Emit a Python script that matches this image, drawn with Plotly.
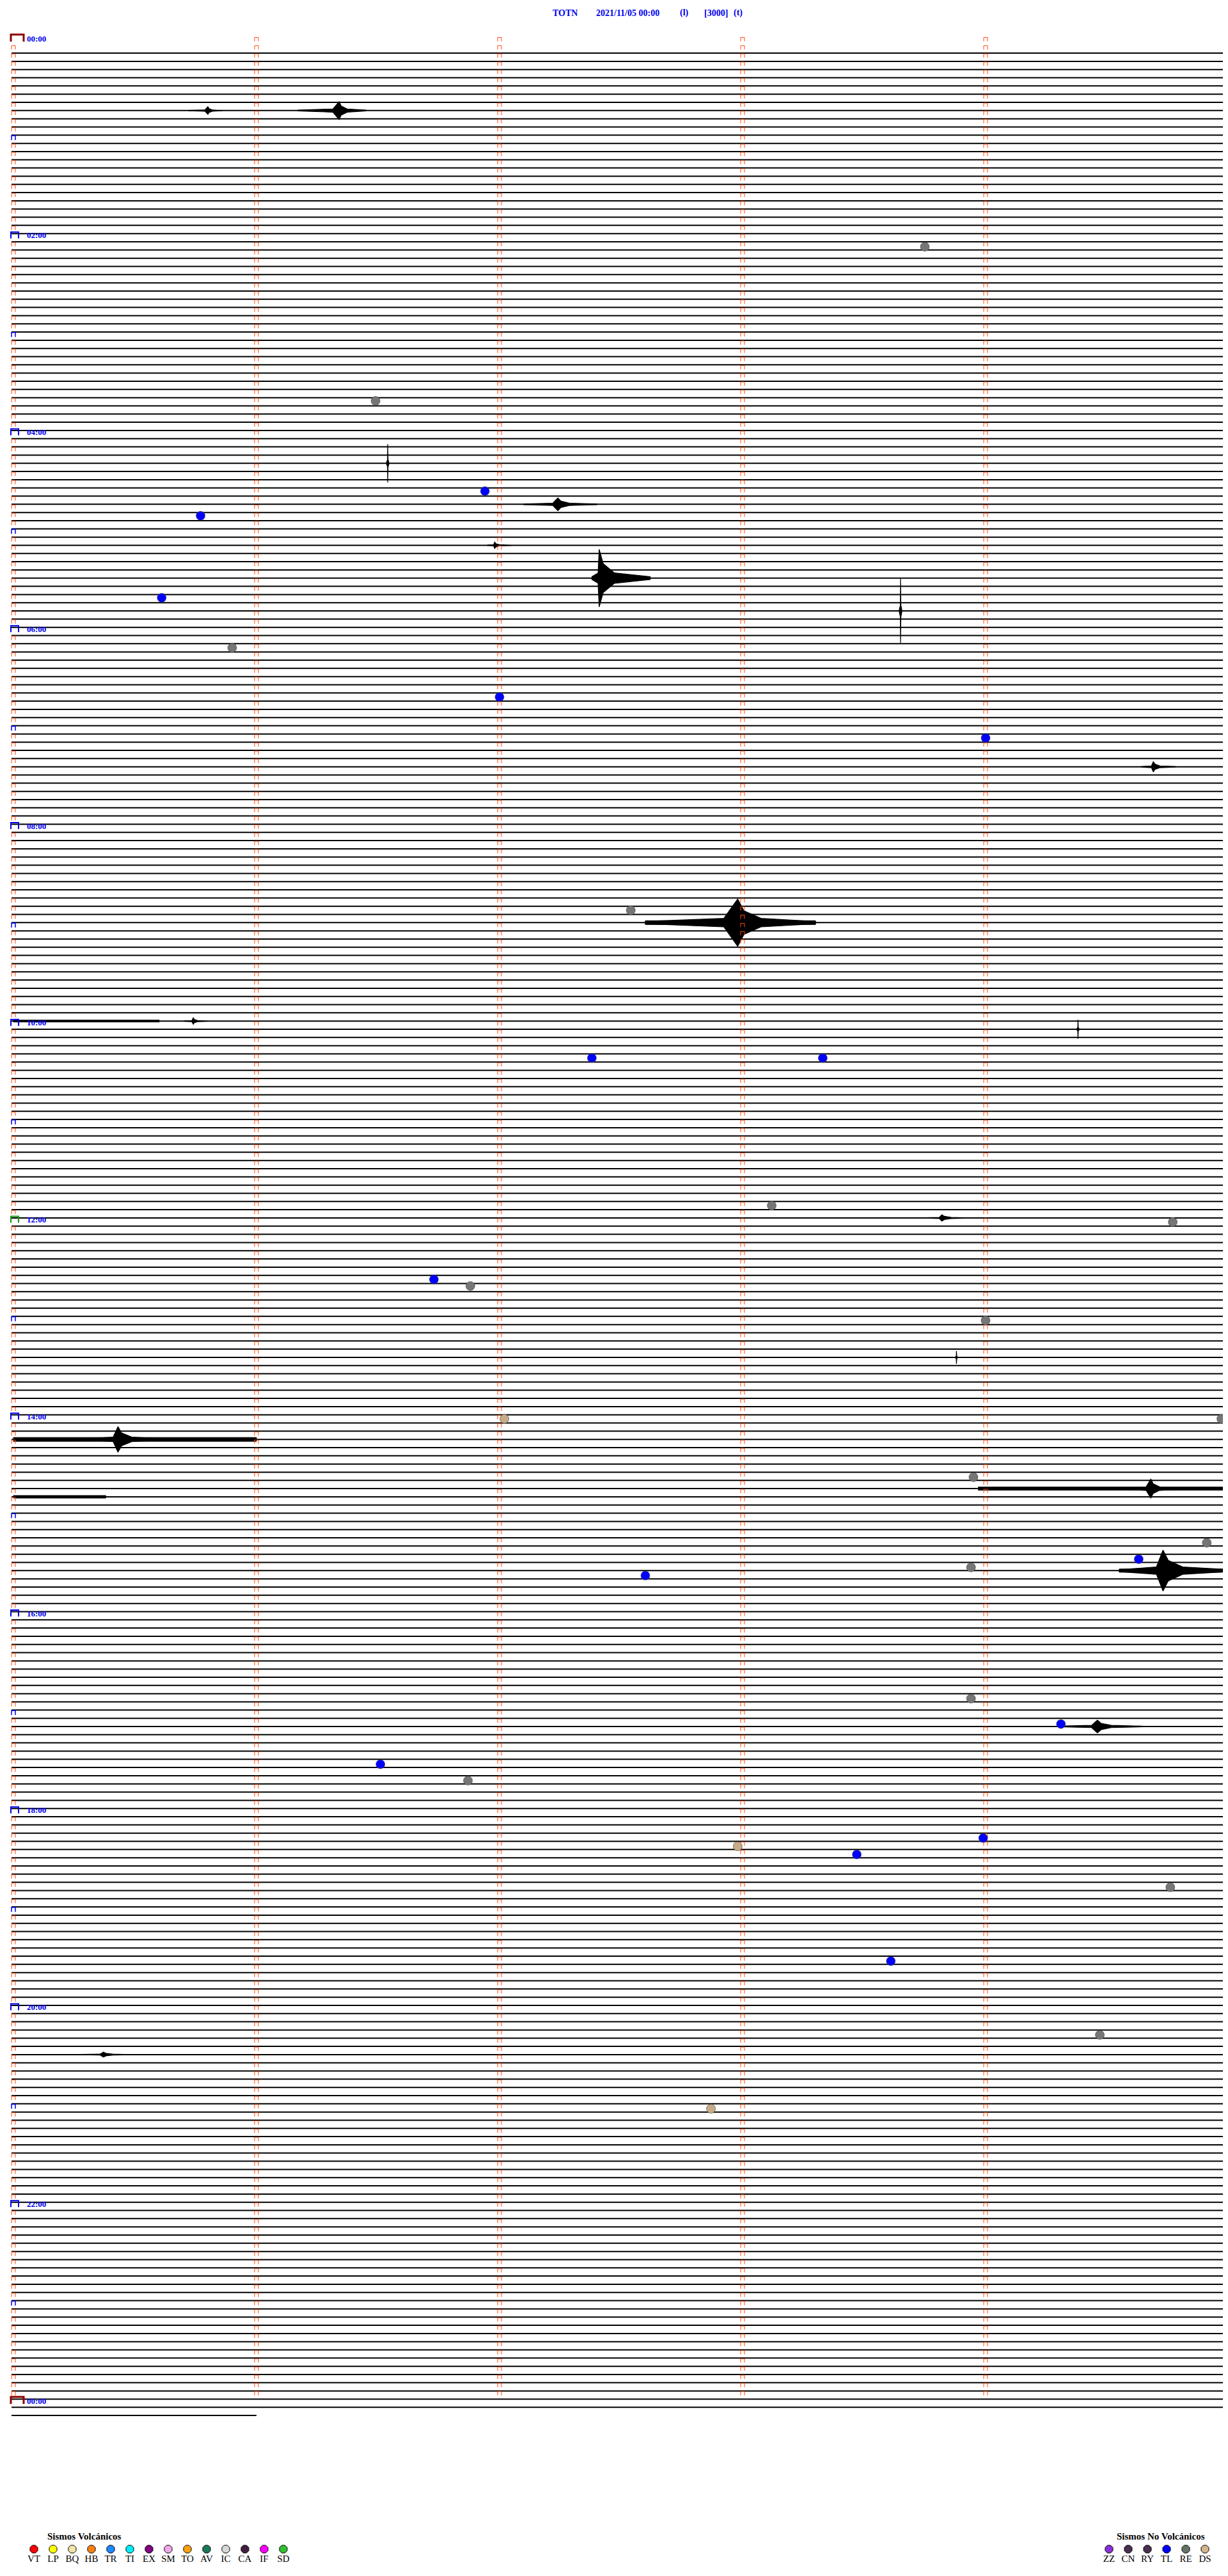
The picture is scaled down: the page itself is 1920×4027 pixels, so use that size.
import plotly.graph_objects as go

# ---------------- data ----------------
title_parts = ["TOTN", "2021/11/05 00:00", "(l)", "[3000]", "(t)"]

n_lines = 291            # 5-minute lines, 00:00 .. next day 00:10
first_trace_line = 2     # first two rows carry no trace
last_line_minutes = 1.0  # last row ends after one minute
minute_ticks = [0, 1, 2, 3, 4]
marked_lines = 288       # rows 0..287 carry minute marks

hours = list(range(0, 25))
hour_labels = ["00:00" if h in (0, 24) else ("%02d:00" % h if h % 2 == 0 else "") for h in hours]

# event bursts on traces: row, start / peak / end (minutes), half amplitude (px)
ev_line = [9, 9, 52, 57, 62, 66, 70, 89, 108, 120, 121, 144, 161, 171, 177, 187, 206, 246]
ev_t0 = [0.72, 1.17, 1.535, 2.10, 1.95, 2.38, 3.645, 4.64, 2.60, 0.70, 4.375, 3.75, 3.875, 0.30, 4.55, 4.55, 4.30, 0.28]
ev_pk = [0.80, 1.34, 1.540, 2.24, 1.98, 2.41, 3.650, 4.69, 2.98, 0.74, 4.380, 3.82, 3.880, 0.43, 4.68, 4.73, 4.46, 0.37]
ev_t1 = [0.86, 1.45, 1.545, 2.40, 2.05, 2.62, 3.655, 4.78, 3.30, 0.80, 4.385, 3.95, 3.885, 0.62, 4.80, 5.00, 4.65, 0.50]
ev_amp = [6, 14, 30, 10, 5, 45, 50, 8, 37, 5, 15, 5, 10, 20, 15, 32, 10, 4]

# noisy (thick) stretches: row, start, end (minutes), half width (px)
bd_line = [108, 171, 177, 178, 187, 120]
bd_t0 = [2.60, 0.00, 3.97, 0.00, 4.55, 0.00]
bd_t1 = [3.30, 1.00, 5.00, 0.38, 5.00, 0.60]
bd_half = [3, 3, 2.5, 2, 2.5, 1.5]

# classified event markers: row position, minute
re_line = [25.4, 44.2, 74.3, 106.3, 142.3, 144.3, 152.1, 156.3, 168.3, 175.4, 183.4, 186.4, 202.4, 212.4, 225.4, 243.4]
re_min = [3.75, 1.49, 0.90, 2.54, 3.12, 4.77, 1.88, 4.00, 4.97, 3.95, 4.91, 3.94, 3.94, 1.87, 4.76, 4.47]
tl_line = [55.2, 58.2, 68.2, 80.3, 85.3, 124.3, 124.3, 151.3, 185.4, 187.4, 205.5, 210.4, 219.4, 221.4, 234.4]
tl_min = [1.94, 0.77, 0.61, 2.00, 4.00, 2.38, 3.33, 1.73, 4.63, 2.60, 4.31, 1.51, 3.99, 3.47, 3.61]
ds_line = [168.3, 220.4, 252.4]
ds_min = [2.02, 2.98, 2.87]

volc_codes = ["VT", "LP", "BQ", "HB", "TR", "TI", "EX", "SM", "TO", "AV", "IC", "CA", "IF", "SD"]
volc_colors = ["#ff0000", "#ffff00", "#f3e4a8", "#ff8010", "#1e88ff", "#00f0ff", "#800080",
               "#f0a8e8", "#ffa010", "#1a7a5a", "#d8d8d8", "#402040", "#ff00ff", "#30c030"]
nv_codes = ["ZZ", "CN", "RY", "TL", "RE", "DS"]
nv_colors = ["#8a30d8", "#483050", "#483050", "#0000ff", "#667466", "#d4b48c"]

# ---------------- geometry / style ----------------
W, H = 1920, 4027
LINE_PX = 12.823
TOP_PX = 52
MIN_PX = 380
X0_PX = 13
TRACE_OFF = -0.2

def dx(px):
    return px / MIN_PX

def dy(px):
    return px / LINE_PX

x_range = [-X0_PX / MIN_PX, (W - X0_PX) / MIN_PX]
y_range = [(H - TOP_PX) / LINE_PX, -TOP_PX / LINE_PX]

fig = go.Figure()

# traces (baselines)
tx, ty = [], []
for i in range(first_trace_line, n_lines):
    end = last_line_minutes if i == n_lines - 1 else 4.995
    tx += [-0.008, end, None]
    ty += [i + TRACE_OFF, i + TRACE_OFF, None]
fig.add_trace(go.Scatter(x=tx, y=ty, mode="lines", line=dict(color="black", width=2),
                         hoverinfo="skip", showlegend=False))

# noisy stretches
bx, by = [], []
for ln, a, b, hw in zip(bd_line, bd_t0, bd_t1, bd_half):
    yc = ln + TRACE_OFF
    h = dy(hw)
    bx += [a, b, b, a, a, None]
    by += [yc - h, yc - h, yc + h, yc + h, yc - h, None]
fig.add_trace(go.Scatter(x=bx, y=by, mode="lines", fill="toself", fillcolor="black",
                         line=dict(color="black", width=1), hoverinfo="skip", showlegend=False))

# event bursts: spiky envelope (quiet onset, sharp peak, fast decaying coda)
rel = [0.0, 0.85, 1.0]
ex, ey = [], []
for ln, a, p, b, amp in zip(ev_line, ev_t0, ev_pk, ev_t1, ev_amp):
    yc = ln + TRACE_OFF
    A = dy(amp)
    xs = [a, a + 0.85 * (p - a), p, p + 0.08 * (b - p), p + 0.3 * (b - p), b]
    hs = [0.05 * A, 0.18 * A, A, 0.5 * A, 0.18 * A, 0.05 * A]
    ex += xs + xs[::-1] + [xs[0], None]
    ey += [yc - h for h in hs] + [yc + h for h in hs[::-1]] + [yc - hs[0], None]
fig.add_trace(go.Scatter(x=ex, y=ey, mode="lines", fill="toself", fillcolor="black",
                         line=dict(color="black", width=1.2), hoverinfo="skip", showlegend=False))

# minute marks
hour_rows = set(h * 12 for h in hours)
mx, my = [], []
w = dx(3)
for i in range(marked_lines):
    for k in minute_ticks:
        if k == 0 and i in hour_rows:
            continue
        top, bot = i - dy(1.5), i + dy(4.5)
        mx += [k - w, k - w, k + w, k + w, None]
        my += [bot, top, top, bot, None]
fig.add_trace(go.Scatter(x=mx, y=my, mode="lines", line=dict(color="#ff4a10", width=1),
                         hoverinfo="skip", showlegend=False))

# hour boxes and labels
groups = {}
for h, lab in zip(hours, hour_labels):
    row = h * 12
    if h in (0, 24):
        col, x1, x2, t, wd = "#8b0000", -dx(4), dx(16), 6, 3
    elif h == 12:
        col, x1, x2, t, wd = "#119911", -dx(4), dx(8), 5, 2
    elif h % 2 == 0:
        col, x1, x2, t, wd = "#0000ee", -dx(4), dx(8), 5, 2
    else:
        col, x1, x2, t, wd = "#0000ee", -dx(3), dx(3), 2, 1.5
    g = groups.setdefault((col, wd), ([], []))
    g[0].extend([x1, x1, x2, x2, None])
    g[1].extend([row + dy(5), row - dy(t), row - dy(t), row + dy(5), None])
    if lab:
        fig.add_annotation(x=dx(19), y=row, text="<b>%s</b>" % lab, showarrow=False,
                           xanchor="left", yanchor="middle",
                           font=dict(family="Liberation Serif", size=13, color="#0000ee"))
for (col, wd), (gx, gy) in groups.items():
    fig.add_trace(go.Scatter(x=gx, y=gy, mode="lines", line=dict(color=col, width=wd),
                             hoverinfo="skip", showlegend=False))

# classified events
for xs, ys, col in [(re_min, re_line, "#767676"), (tl_min, tl_line, "#0000ff"), (ds_min, ds_line, "#c8ac88")]:
    fig.add_trace(go.Scatter(x=xs, y=ys, mode="markers",
                             marker=dict(size=14, color=col, line=dict(color="#404040", width=0.6)),
                             hoverinfo="skip", showlegend=False))

# ---------------- title & legends (pixel layer) ----------------
title_x = [875, 973, 1062, 1111, 1146]
for t, xp in zip(title_parts, title_x):
    fig.add_annotation(xref="x2", yref="y2", x=xp, y=12, text="<b>%s</b>" % t, showarrow=False,
                       font=dict(family="Liberation Serif", size=14, color="#0000ee"))

vx = [45 + 30 * k for k in range(len(volc_codes))]
nx = [1726 + 30 * k for k in range(len(nv_codes))]
fig.add_trace(go.Scatter(x=vx + nx, y=[3977] * (len(vx) + len(nx)), xaxis="x2", yaxis="y2",
                         mode="markers+text", text=volc_codes + nv_codes, textposition="bottom center",
                         textfont=dict(family="Liberation Serif", size=15, color="black"),
                         marker=dict(symbol="octagon", size=13, color=volc_colors + nv_colors,
                                     line=dict(color="black", width=1)),
                         hoverinfo="skip", showlegend=False))
fig.add_annotation(xref="x2", yref="y2", x=124, y=3957, text="<b>Sismos Volcánicos</b>", showarrow=False,
                   font=dict(family="Liberation Serif", size=15, color="black"))
fig.add_annotation(xref="x2", yref="y2", x=1807, y=3957, text="<b>Sismos No Volcánicos</b>", showarrow=False,
                   font=dict(family="Liberation Serif", size=15, color="black"))

fig.update_layout(
    width=W, height=H, margin=dict(l=0, r=0, t=0, b=0),
    paper_bgcolor="white", plot_bgcolor="white", showlegend=False,
    xaxis=dict(range=x_range, visible=False, fixedrange=True),
    yaxis=dict(range=y_range, visible=False, fixedrange=True),
    xaxis2=dict(range=[0, W], visible=False, overlaying="x", fixedrange=True),
    yaxis2=dict(range=[H, 0], visible=False, overlaying="y", fixedrange=True),
)

fig.write_html("out.html")
